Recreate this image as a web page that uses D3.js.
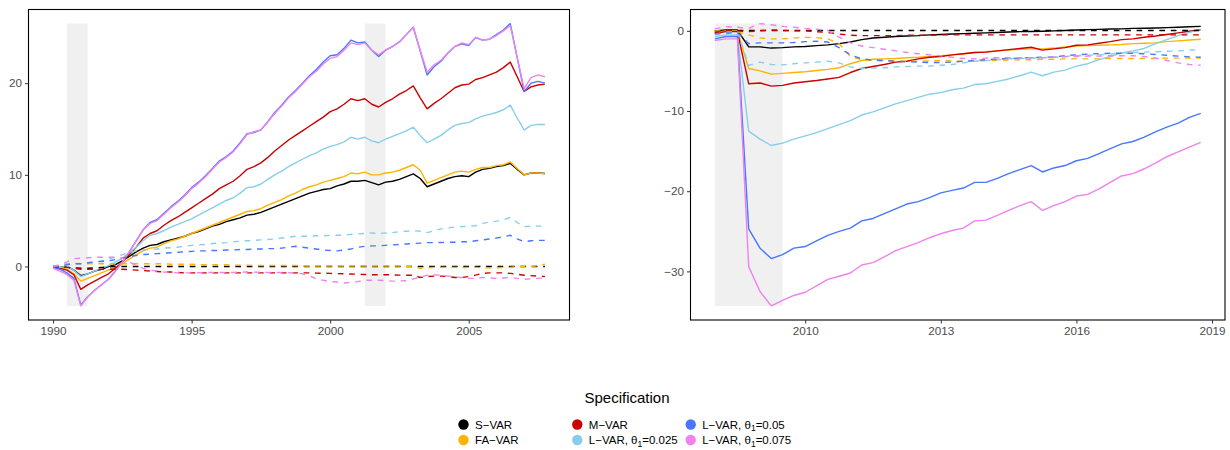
<!DOCTYPE html>
<html><head><meta charset="utf-8">
<script src="https://cdn.jsdelivr.net/npm/d3@7"></script>
<style>
body{margin:0;background:#fff}
svg{display:block;font-family:"Liberation Sans",Arial,Helvetica,sans-serif}
</style>
</head><body>
<svg id="chart" width="1230" height="450"></svg>
<script>
// ---------- categories / labels ----------
const specNames = ["S\u2212VAR","FA\u2212VAR","M\u2212VAR","L\u2212VAR, θ|1|=0.025","L\u2212VAR, θ|1|=0.05","L\u2212VAR, θ|1|=0.075"];
const specColors = ["#000000","#FFB300","#CC0000","#87CEEB","#4876FF","#EE82EE"];
const legendTitle = "Specification";
const leftStartYear = 1990, leftEndYear = 2007.75;
const rightStartYear = 2008, rightEndYear = 2018.75;
const leftXTicks = [1990,1995,2000,2005];
const rightXTicks = [2010,2013,2016,2019];
const leftYTicks = [0,10,20];
const rightYTicks = [0,-10,-20,-30];
const leftRecessions = [[1990.5,1991.25],[2001.25,2002.0]];
const rightRecessions = [[2008.0,2009.5]];

// ---------- left panel (quarterly 1990Q1 - 2007Q4) ----------
const left_svar = [0.0,-0.1,0.0,-0.4,-1.0,-0.8,-0.5,-0.3,0.0,0.2,0.6,1.1,
1.6,2.0,2.3,2.4,2.7,2.9,3.1,3.3,3.6,3.8,4.1,4.4,
4.6,4.9,5.1,5.3,5.6,5.7,5.9,6.2,6.5,6.8,7.1,7.4,
7.7,8.0,8.2,8.4,8.5,8.8,9.0,9.3,9.3,9.4,9.15,8.9,
9.2,9.3,9.5,9.8,10.1,9.6,8.7,9.0,9.3,9.6,9.8,9.9,
9.8,10.3,10.6,10.7,10.9,11.0,11.25,10.6,10.0,10.2,10.2,10.15];
const left_favar = [0.0,-0.1,-0.3,-0.8,-1.6,-1.3,-1.0,-0.7,-0.4,-0.1,0.3,0.8,
1.3,1.7,2.0,2.1,2.5,2.8,3.0,3.3,3.6,3.9,4.2,4.5,
4.8,5.1,5.4,5.7,6.0,6.1,6.3,6.7,7.0,7.3,7.7,8.0,
8.4,8.7,8.9,9.2,9.4,9.6,9.8,10.2,10.1,10.3,10.0,10.0,
10.2,10.3,10.5,10.8,11.1,10.5,9.1,9.4,9.7,10.0,10.3,10.4,
10.3,10.6,10.8,10.8,11.0,11.1,11.4,10.7,10.0,10.2,10.2,10.1];
const left_mvar = [0.0,-0.2,-0.4,-0.9,-2.5,-2.0,-1.6,-1.2,-0.8,-0.2,0.5,1.3,
2.1,3.1,3.6,3.9,4.5,5.0,5.4,5.9,6.4,6.9,7.4,7.9,
8.5,8.9,9.3,9.9,10.6,10.9,11.3,11.9,12.6,13.2,13.8,14.3,
14.8,15.3,15.8,16.3,16.9,17.2,17.7,18.3,18.1,18.3,17.7,17.4,
17.9,18.3,18.8,19.2,19.7,18.4,17.2,17.8,18.3,18.9,19.5,19.8,
19.9,20.4,20.6,20.9,21.2,21.7,22.3,20.7,19.1,19.6,19.8,19.9];
const left_l025 = [0.0,-0.1,0.0,-0.4,-1.1,-0.8,-0.5,-0.2,0.1,0.5,0.9,1.5,
2.1,2.8,3.4,3.6,3.9,4.3,4.6,4.9,5.2,5.6,6.0,6.4,
6.8,7.2,7.5,8.0,8.6,8.7,9.0,9.5,10.0,10.4,10.9,11.3,
11.7,12.1,12.4,12.8,13.1,13.3,13.6,14.1,13.9,14.1,13.7,13.5,
13.9,14.2,14.5,14.8,15.2,14.3,13.5,13.9,14.3,14.9,15.4,15.6,
15.7,16.1,16.4,16.6,16.8,17.1,17.6,16.2,14.9,15.4,15.5,15.5];
const left_l05 = [-0.1,-0.3,-0.7,-1.3,-4.2,-3.3,-2.6,-2.0,-1.4,-0.5,0.5,1.6,
2.8,4.0,4.8,5.1,5.8,6.5,7.1,7.8,8.6,9.2,9.9,10.7,
11.5,12.0,12.6,13.5,14.5,14.6,14.9,15.8,16.8,17.6,18.5,19.2,
20.0,20.8,21.5,22.3,23.0,23.1,23.8,24.7,24.4,24.5,23.6,22.9,
23.6,24.0,24.5,25.3,26.1,23.5,20.9,21.8,22.4,23.3,24.0,24.3,
24.1,25.0,24.7,24.8,25.3,25.8,26.5,22.8,19.1,20.0,20.2,20.0];
const left_l075 = [-0.2,-0.5,-0.9,-1.5,-4.3,-3.3,-2.6,-2.0,-1.4,-0.5,0.5,1.6,
2.8,4.0,4.7,5.0,5.7,6.4,7.0,7.7,8.5,9.1,9.8,10.6,
11.4,11.9,12.5,13.4,14.4,14.7,14.9,15.8,16.7,17.5,18.4,19.1,
19.9,20.7,21.3,22.1,22.7,22.9,23.6,24.4,24.2,24.4,23.6,23.1,
23.6,24.0,24.5,25.3,26.1,23.6,21.2,22.0,22.5,23.3,24.0,24.4,
24.2,25.0,24.7,24.8,25.2,25.7,26.3,22.8,19.4,20.6,20.9,20.7];
const left_svar_d = [0.0,0.0,-0.1,-0.15,-0.2,-0.2,-0.15,-0.1,-0.05,0.0,0.0,0.0,
0.0,0.0,0.0,0.0,0.0,0.0,0.0,0.0,0.0,0.0,0.0,0.0,
0.0,0.0,0.0,0.0,0.0,0.0,0.0,0.0,0.0,0.0,0.0,0.0,
0.0,0.0,0.0,0.0,0.0,0.0,0.0,0.0,0.0,0.0,0.0,0.0,
0.0,0.0,0.0,0.0,0.0,0.0,0.0,0.0,0.0,0.0,0.0,0.0,
0.0,0.0,0.0,0.0,0.0,0.0,0.0,0.0,0.0,0.0,0.0,0.0];
const left_favar_d = [0.0,0.1,0.3,0.35,0.3,0.3,0.3,0.3,0.3,0.3,0.3,0.3,
0.3,0.3,0.3,0.3,0.3,0.25,0.25,0.25,0.25,0.2,0.2,0.2,
0.2,0.2,0.15,0.15,0.15,0.1,0.1,0.1,0.1,0.1,0.1,0.1,
0.05,0.05,0.05,0.05,0.05,0.05,0.05,0.05,0.05,0.05,0.05,0.05,
0.05,0.05,0.05,0.0,0.0,-0.2,-0.15,-0.1,-0.1,-0.1,-0.1,-0.15,
-0.1,-0.1,-0.15,-0.15,-0.15,-0.1,-0.1,0.0,0.0,0.0,0.1,0.25];
const left_mvar_d = [0.0,-0.1,-0.1,-0.2,-0.3,-0.3,-0.3,-0.3,-0.3,-0.3,-0.3,-0.35,
-0.4,-0.45,-0.5,-0.55,-0.6,-0.6,-0.65,-0.7,-0.7,-0.7,-0.7,-0.7,
-0.7,-0.7,-0.7,-0.7,-0.7,-0.7,-0.7,-0.7,-0.7,-0.7,-0.7,-0.7,
-0.7,-0.7,-0.72,-0.74,-0.75,-0.78,-0.8,-0.82,-0.85,-0.88,-0.9,-0.9,
-0.9,-0.92,-0.94,-0.95,-0.95,-1.2,-1.1,-1.05,-1.05,-1.1,-1.2,-1.2,
-1.1,-0.95,-0.75,-0.7,-0.7,-0.7,-0.75,-0.85,-0.95,-1.0,-1.05,-1.1];
const left_l025_d = [0.0,0.1,0.2,0.3,0.3,0.4,0.5,0.6,0.8,1.0,1.3,1.5,
1.7,1.8,1.85,1.9,2.0,2.05,2.1,2.2,2.3,2.35,2.4,2.5,
2.55,2.6,2.7,2.75,2.8,2.85,2.9,2.95,3.0,3.1,3.2,3.3,
3.3,3.3,3.35,3.35,3.4,3.4,3.45,3.5,3.55,3.6,3.65,3.6,
3.65,3.7,3.8,3.85,3.9,3.85,3.7,3.9,4.1,4.2,4.3,4.35,
4.4,4.45,4.7,4.85,4.95,5.1,5.35,4.8,4.35,4.4,4.4,4.4];
const left_l05_d = [0.0,0.0,0.2,0.3,0.3,0.4,0.5,0.55,0.6,0.75,0.9,1.1,
1.2,1.3,1.35,1.4,1.45,1.5,1.55,1.6,1.65,1.7,1.7,1.75,
1.75,1.8,1.8,1.85,1.85,1.9,1.9,1.95,1.95,2.0,2.1,2.2,
2.1,2.0,1.9,1.8,1.75,1.7,1.8,1.9,2.1,2.2,2.25,2.25,
2.3,2.35,2.4,2.45,2.5,2.55,2.6,2.6,2.62,2.65,2.65,2.7,
2.7,2.8,2.9,3.0,3.1,3.25,3.4,3.0,2.7,2.8,2.85,2.85];
const left_l075_d = [0.0,0.2,0.5,0.85,0.9,0.95,1.0,1.0,1.0,1.0,0.9,0.5,
0.1,-0.2,-0.4,-0.5,-0.6,-0.65,-0.7,-0.7,-0.7,-0.68,-0.66,-0.65,
-0.65,-0.65,-0.65,-0.62,-0.6,-0.62,-0.64,-0.65,-0.65,-0.66,-0.68,-0.7,
-0.8,-1.0,-1.35,-1.5,-1.65,-1.7,-1.8,-1.75,-1.65,-1.5,-1.5,-1.5,
-1.55,-1.6,-1.58,-1.55,-1.35,-1.2,-0.95,-0.9,-0.95,-1.05,-1.15,-1.2,
-1.3,-1.3,-1.2,-1.25,-1.3,-1.25,-1.2,-1.3,-1.4,-1.35,-1.3,-1.25];

// ---------- right panel (quarterly 2008Q1 - 2018Q4) ----------
const right_svar = [0.0,0.1,0.1,-2.0,-2.0,-2.15,-2.1,-2.0,-1.95,-1.85,-1.75,-1.6,
-1.4,-1.1,-0.9,-0.8,-0.7,-0.65,-0.6,-0.5,-0.45,-0.4,-0.35,-0.3,
-0.25,-0.2,-0.15,-0.1,-0.08,-0.05,0.0,0.05,0.1,0.15,0.18,0.22,
0.25,0.3,0.32,0.35,0.4,0.45,0.5,0.55];
const right_favar = [-0.2,0.0,0.0,-4.7,-5.0,-5.4,-5.3,-5.2,-5.1,-4.95,-4.8,-4.6,
-4.1,-3.7,-3.55,-3.5,-3.45,-3.35,-3.3,-3.2,-3.1,-3.0,-2.85,-2.7,
-2.6,-2.5,-2.4,-2.3,-2.25,-2.25,-2.15,-2.0,-1.9,-1.85,-1.8,-1.75,
-1.7,-1.6,-1.55,-1.5,-1.35,-1.25,-1.15,-1.05];
const right_mvar = [-0.3,-0.1,-0.1,-6.6,-6.5,-6.9,-6.8,-6.5,-6.35,-6.2,-6.0,-5.8,
-5.2,-4.7,-4.45,-4.2,-3.9,-3.8,-3.5,-3.3,-3.2,-3.0,-2.85,-2.7,
-2.65,-2.5,-2.35,-2.2,-2.05,-2.4,-2.25,-2.1,-1.8,-1.75,-1.55,-1.35,
-1.1,-1.0,-0.8,-0.65,-0.45,-0.25,-0.05,0.15];
const right_l025 = [-0.7,-0.5,-0.5,-12.5,-13.5,-14.3,-14.0,-13.5,-13.1,-12.7,-12.2,-11.7,
-11.2,-10.5,-10.1,-9.6,-9.1,-8.7,-8.3,-7.9,-7.7,-7.35,-7.15,-6.7,
-6.6,-6.3,-6.0,-5.6,-5.15,-5.6,-5.15,-4.9,-4.4,-4.1,-3.6,-3.2,
-2.75,-2.5,-2.2,-1.6,-1.1,-0.6,-0.2,0.15];
const right_l05 = [-1.0,-0.7,-0.7,-24.7,-27.1,-28.4,-27.9,-27.1,-26.9,-26.2,-25.5,-25.0,
-24.6,-23.7,-23.4,-22.8,-22.2,-21.6,-21.3,-20.8,-20.2,-19.9,-19.6,-18.9,
-18.9,-18.4,-17.8,-17.3,-16.8,-17.6,-17.1,-16.8,-16.2,-15.9,-15.3,-14.7,
-14.1,-13.8,-13.25,-12.6,-12.0,-11.5,-10.8,-10.3];
const right_l075 = [-1.2,-1.0,-1.0,-29.4,-32.5,-34.3,-33.6,-33.0,-32.6,-31.8,-31.0,-30.6,
-30.2,-29.2,-28.9,-28.2,-27.4,-26.9,-26.4,-25.8,-25.3,-24.9,-24.6,-23.7,
-23.6,-23.0,-22.4,-21.8,-21.3,-22.4,-21.8,-21.3,-20.6,-20.4,-19.7,-18.9,
-18.1,-17.8,-17.2,-16.5,-15.7,-15.1,-14.5,-13.9];
const right_svar_d = [0.0,0.0,0.05,0.05,0.05,0.05,0.05,0.05,0.05,0.05,0.05,0.05,
0.05,0.05,0.05,0.05,0.05,0.05,0.05,0.05,0.05,0.05,0.05,0.05,
0.05,0.05,0.05,0.05,0.05,0.05,0.05,0.05,0.05,0.05,0.05,0.05,
0.05,0.05,0.05,0.05,0.05,0.05,0.05,0.05];
const right_favar_d = [0.0,-0.05,-0.1,-0.5,-0.9,-1.0,-1.0,-0.9,-0.8,-0.85,-1.0,-1.6,
-3.2,-3.6,-3.7,-3.7,-3.75,-3.8,-3.8,-3.75,-3.7,-3.75,-3.8,-3.75,
-3.7,-3.7,-3.65,-3.6,-3.6,-3.55,-3.55,-3.5,-3.5,-3.5,-3.5,-3.45,
-3.45,-3.45,-3.45,-3.45,-3.4,-3.4,-3.4,-3.4];
const right_mvar_d = [-0.2,0.0,0.0,-0.1,0.0,0.1,0.05,0.0,0.0,-0.1,-0.2,-0.4,
-0.55,-0.6,-0.6,-0.6,-0.6,-0.55,-0.55,-0.55,-0.5,-0.5,-0.5,-0.5,
-0.5,-0.5,-0.5,-0.5,-0.5,-0.5,-0.5,-0.5,-0.5,-0.5,-0.5,-0.5,
-0.5,-0.5,-0.5,-0.5,-0.5,-0.5,-0.5,-0.5];
const right_l025_d = [-0.4,-0.2,-0.1,-4.3,-3.9,-4.2,-4.25,-4.1,-4.0,-3.9,-3.8,-4.0,
-4.5,-4.7,-4.65,-4.6,-4.5,-4.45,-4.4,-4.4,-4.3,-4.2,-4.0,-3.8,
-3.7,-3.6,-3.5,-3.45,-3.4,-3.35,-3.3,-3.2,-3.1,-3.05,-3.0,-2.9,
-2.75,-2.7,-2.65,-2.6,-2.55,-2.5,-2.4,-2.35];
const right_l05_d = [-0.4,-0.3,-0.2,-1.6,-1.5,-1.5,-1.5,-1.45,-1.35,-1.3,-1.4,-2.1,
-3.0,-3.5,-3.65,-3.7,-3.8,-3.85,-3.9,-3.95,-3.95,-3.9,-3.8,-3.7,
-3.6,-3.5,-3.45,-3.4,-3.35,-3.3,-3.25,-3.1,-3.0,-2.9,-2.85,-2.8,
-2.8,-2.8,-2.85,-2.95,-3.05,-3.15,-3.25,-3.3];
const right_l075_d = [0.25,0.5,0.45,0.3,0.9,0.75,0.55,0.45,0.3,0.2,0.05,-0.8,
-1.5,-1.9,-2.1,-2.3,-2.5,-2.7,-2.85,-3.0,-3.1,-3.3,-3.45,-3.5,
-3.4,-3.35,-3.35,-3.35,-3.35,-3.35,-3.3,-3.25,-3.2,-3.15,-3.15,-3.1,
-3.1,-3.1,-3.2,-3.4,-3.7,-4.0,-4.2,-4.3];

// ---------- drawing ----------
const svg = d3.select("#chart");
const font = '"Liberation Sans",Arial,Helvetica,sans-serif';

function panel(cfg){
  const {x0,x1,y0,y1,start,end,solid,dashed,xTicks,yTicks,recessions} = cfg;
  const all = solid.concat(dashed).flat();
  const [vmin,vmax] = d3.extent(all);
  const vr = vmax - vmin, tr = end - start;
  const x = d3.scaleLinear().domain([start - 0.05*tr, end + 0.05*tr]).range([x0,x1]);
  const y = d3.scaleLinear().domain([vmin - 0.05*vr, vmax + 0.05*vr]).range([y1,y0]);
  const g = svg.append("g");
  g.append("defs").append("clipPath").attr("id","clip"+x0)
    .append("rect").attr("x",x0).attr("y",y0).attr("width",x1-x0).attr("height",y1-y0);
  g.selectAll("rect.rec").data(recessions).join("rect").attr("class","rec")
    .attr("x",d=>x(d[0])).attr("width",d=>x(d[1])-x(d[0]))
    .attr("y",y(vmax)).attr("height",y(vmin)-y(vmax))
    .attr("fill","#F0F0F0");
  const line = d3.line().x((d,i)=>x(start+0.25*i)).y(d=>y(d));
  const lines = g.append("g").attr("clip-path","url(#clip"+x0+")");
  solid.forEach((s,k)=>{
    lines.append("path").datum(s).attr("d",line).attr("fill","none")
      .attr("stroke",specColors[k]).attr("stroke-width",1.4).attr("stroke-linejoin","round");
  });
  dashed.forEach((s,k)=>{
    lines.append("path").datum(s).attr("d",line).attr("fill","none")
      .attr("stroke",specColors[k]).attr("stroke-width",1.4).attr("stroke-dasharray","5.7,5.7");
  });
  // border
  g.append("rect").attr("x",x0).attr("y",y0).attr("width",x1-x0).attr("height",y1-y0)
    .attr("fill","none").attr("stroke","#000").attr("stroke-width",1.1);
  // x axis
  const xa = g.append("g").attr("transform",`translate(0,${y1})`)
    .call(d3.axisBottom(x).tickValues(xTicks).tickFormat(d3.format("d")).tickSize(3.5).tickPadding(3));
  xa.select(".domain").remove();
  xa.selectAll("line").attr("stroke","#333").attr("stroke-width",1);
  xa.selectAll("text").attr("fill","#4D4D4D").style("font-size","11.7px").style("font-family",font);
  const ya = g.append("g").attr("transform",`translate(${x0},0)`)
    .call(d3.axisLeft(y).tickValues(yTicks).tickSize(3.5).tickPadding(3));
  ya.select(".domain").remove();
  ya.selectAll("line").attr("stroke","#333").attr("stroke-width",1);
  ya.selectAll("text").attr("fill","#4D4D4D").style("font-size","11.7px").style("font-family",font);
}

panel({x0:28.5,x1:569.5,y0:9.5,y1:320,start:leftStartYear,end:leftEndYear,
  solid:[left_svar,left_favar,left_mvar,left_l025,left_l05,left_l075],
  dashed:[left_svar_d,left_favar_d,left_mvar_d,left_l025_d,left_l05_d,left_l075_d],
  xTicks:leftXTicks,yTicks:leftYTicks,recessions:leftRecessions});
panel({x0:690.5,x1:1225,y0:9.5,y1:320,start:rightStartYear,end:rightEndYear,
  solid:[right_svar,right_favar,right_mvar,right_l025,right_l05,right_l075],
  dashed:[right_svar_d,right_favar_d,right_mvar_d,right_l025_d,right_l05_d,right_l075_d],
  xTicks:rightXTicks,yTicks:rightYTicks,recessions:rightRecessions});

// ---------- legend ----------
svg.append("text").attr("x",627).attr("y",403).attr("text-anchor","middle")
  .style("font-size","15px").style("font-family",font).attr("fill","#000").text(legendTitle);
const colX = [463.5,577.3,690.7], rowY = [424.5,440];
const leg = svg.append("g");
specNames.forEach((name,i)=>{
  const c = Math.floor(i/2), r = i%2;
  leg.append("circle").attr("cx",colX[c]).attr("cy",rowY[r]).attr("r",5.2).attr("fill",specColors[i]);
  const t = leg.append("text").attr("x",colX[c]+11.5).attr("y",rowY[r]+4)
    .style("font-size","11.5px").style("font-family",font).attr("fill","#000");
  const parts = name.split("|");
  t.append("tspan").text(parts[0]);
  if(parts.length>1){
    t.append("tspan").attr("dy",2.5).style("font-size","8.5px").text(parts[1]);
    t.append("tspan").attr("dy",-2.5).text(parts[2]);
  }
});
</script>
</body></html>
